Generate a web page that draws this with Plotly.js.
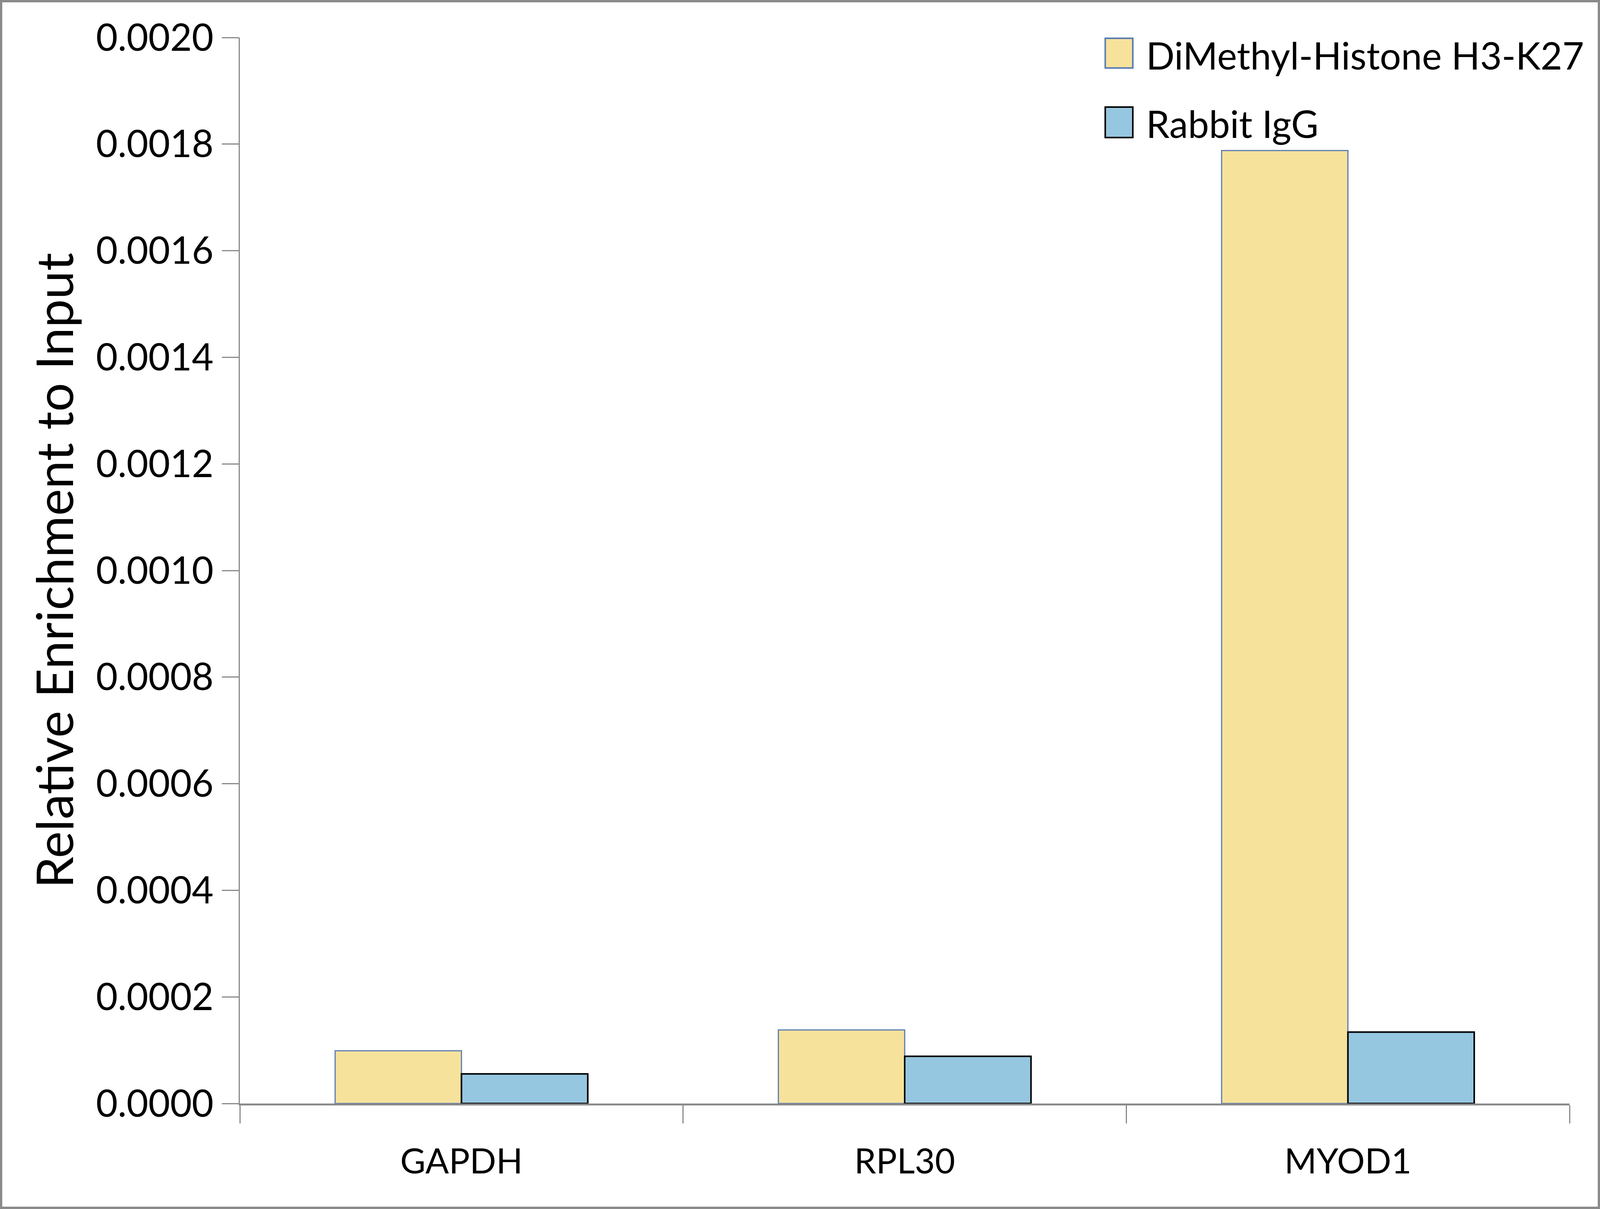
<!DOCTYPE html>
<html>
<head>
<meta charset="utf-8">
<script src="https://cdn.plot.ly/plotly-3.0.1.min.js"></script>
<style>
  html, body { margin: 0; padding: 0; background: #fff; overflow: hidden; }
</style>
</head>
<body>
<div id="chart"></div>
<script>
// ChIP-qPCR enrichment, grouped bars per locus.

const categories = ['GAPDH', 'RPL30', 'MYOD1'];
const seriesNames = ['DiMethyl-Histone H3-K27', 'Rabbit IgG'];
const dimethylValues = [0.000099, 0.000138, 0.001788];
const iggValues = [0.0000555, 0.0000885, 0.000134];
const yTicks = [0, 0.0002, 0.0004, 0.0006, 0.0008, 0.0010, 0.0012, 0.0014, 0.0016, 0.0018, 0.0020];

// Layout was measured on a 4411x3094 canvas; fit it to whatever window we get.
const REF_W = 4411, REF_H = 3094;
const W = window.innerWidth || REF_W;
const H = window.innerHeight || REF_H;
const sx = W / REF_W, sy = H / REF_H;
const fs = v => Math.round(v * sx);

const M = { l: Math.round(661 * sx), r: Math.round(84 * sx), t: Math.round(96 * sy), b: Math.round(270 * sy) };
const plotW = W - M.l - M.r;
const plotH = H - M.t - M.b;

// reference-pixel -> paper helpers (legend boxes and outer frame only)
const px = x => (x * sx - M.l) / plotW;
const py = y => (H - M.b - y * sy) / plotH;

const FONT = 'Lato, "Open Sans", sans-serif';
const AXIS_GREY = '#8a8a8a';
const colors = {
    dimethyl: { fill: '#F7E29C', line: '#5B7DB1' },
    igg: { fill: '#96C7E0', line: '#000000' },
};

const traces = [
    {
        type: 'bar', name: seriesNames[0], x: categories, y: dimethylValues,
        marker: { color: colors.dimethyl.fill, line: { color: colors.dimethyl.line, width: 3 } },
        showlegend: false,
    },
    {
        type: 'bar', name: seriesNames[1], x: categories, y: iggValues,
        marker: { color: colors.igg.fill, line: { color: colors.igg.line, width: 4 } },
        showlegend: false,
    },
];

// hand-made legend: big square swatches like the original
const legendRows = [
    { name: seriesNames[0], c: colors.dimethyl, top: 98, bottom: 174, mid: 141 },
    { name: seriesNames[1], c: colors.igg, top: 274, bottom: 352, mid: 315 },
];
const shapes = legendRows.map(r => ({
    type: 'rect', xref: 'paper', yref: 'paper',
    x0: px(3047), x1: px(3123), y0: py(r.bottom), y1: py(r.top),
    fillcolor: r.c.fill, line: { color: r.c.line, width: 4 },
}));
shapes.push({
    type: 'rect', xref: 'paper', yref: 'paper',
    x0: px(3), x1: px(REF_W - 3), y0: py(REF_H - 3), y1: py(3),
    line: { color: AXIS_GREY, width: 6 }, fillcolor: 'rgba(0,0,0,0)', layer: 'below',
});
const annotations = legendRows.map(r => ({
    xref: 'paper', yref: 'paper', x: px(3158), y: py(r.mid),
    xanchor: 'left', yanchor: 'middle', showarrow: false,
    text: r.name, font: { family: FONT, size: fs(103), color: '#000' },
}));

const layout = {
    width: W, height: H,
    margin: M,
    paper_bgcolor: '#fff', plot_bgcolor: '#fff',
    font: { family: FONT, color: '#000', size: fs(103) },
    barmode: 'group', bargap: 0.43, bargroupgap: 0,
    showlegend: false,
    xaxis: {
        type: 'category',
        showline: true, linecolor: AXIS_GREY, linewidth: 5,
        ticks: 'outside', tickson: 'boundaries', ticklen: 46, tickwidth: 3, tickcolor: AXIS_GREY,
        ticklabelstandoff: 67,
        tickfont: { family: FONT, size: fs(96) },
        showgrid: false, zeroline: false, fixedrange: true,
    },
    yaxis: {
        range: [0, 0.002],
        tickvals: yTicks, tickformat: '.4f',
        showline: true, linecolor: AXIS_GREY, linewidth: 3,
        ticks: 'outside', ticklen: fs(46), tickwidth: 3, tickcolor: AXIS_GREY,
        ticklabelstandoff: 2,
        tickfont: { family: FONT, size: fs(103) },
        showgrid: false, zeroline: false, fixedrange: true,
        title: { text: 'Relative Enrichment to Input', font: { family: FONT, size: fs(140) }, standoff: 15 },
    },
    shapes, annotations,
};

Plotly.newPlot('chart', traces, layout, { displayModeBar: false, staticPlot: true });
</script>
</body>
</html>
